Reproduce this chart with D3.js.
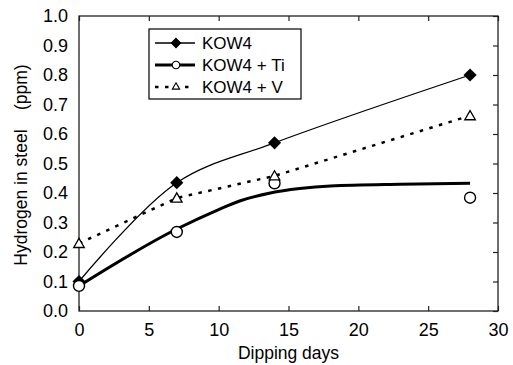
<!DOCTYPE html>
<meta charset="utf-8">
<style>
body { margin: 0; background: #fff; }
svg text { font-family: "Liberation Sans", Arial, sans-serif; fill: #000; }
.tick text { font-size: 18px; }
.title { font-size: 17.5px; }
.legend text { font-size: 17px; }
</style>
<svg width="513" height="365"></svg>
<script src="https://d3js.org/d3.v7.min.js"></script>
<script>
// measured points
var days = [0, 7, 14, 28];
var kow4 = [0.10, 0.435, 0.57, 0.80];
var kow4Ti = [0.085, 0.268, 0.433, 0.384];
var kow4V = [0.229, 0.383, 0.458, 0.662];

// smooth fit line drawn for KOW4 + Ti
var fitDays = [0, 7, 10, 11.5, 13.7, 15.8, 18, 23, 28];
var fitTi = [0.085, 0.278, 0.344, 0.373, 0.400, 0.415, 0.424, 0.430, 0.433];

var xTicks = [0, 5, 10, 15, 20, 25, 30];
var yTicks = [0, 0.1, 0.2, 0.3, 0.4, 0.5, 0.6, 0.7, 0.8, 0.9, 1.0];
var legendLabels = ["KOW4", "KOW4 + Ti", "KOW4 + V"];

var svg = d3.select("svg"),
  margin = {top: 16, right: 15, bottom: 54, left: 79},
  width = svg.attr("width") - margin.left - margin.right,
  height = svg.attr("height") - margin.top - margin.bottom;

var x = d3.scaleLinear().domain([0, 30]).range([0, width]);
var y = d3.scaleLinear().domain([0, 1]).range([height, 0]);

var g = svg.append("g")
  .attr("transform", "translate(" + margin.left + "," + margin.top + ")");

// bottom axis, ticks pointing in
var xAxis = g.append("g")
  .attr("transform", "translate(0," + height + ")")
  .call(d3.axisBottom(x).tickValues(xTicks).tickSize(-5).tickPadding(12).tickFormat(d3.format("d")));
// left axis, labels only
var yAxis = g.append("g")
  .call(d3.axisLeft(y).tickValues(yTicks).tickSize(0).tickPadding(11).tickFormat(d3.format(".1f")));
// top and right, ticks only
var topAxis = g.append("g")
  .call(d3.axisTop(x).tickValues(xTicks).tickSize(-5).tickFormat(""));
var rightAxis = g.append("g")
  .attr("transform", "translate(" + width + ",0)")
  .call(d3.axisRight(y).tickValues(yTicks).tickSize(-5).tickFormat(""));

[xAxis, yAxis, topAxis, rightAxis].forEach(function(a) {
  a.select(".domain").remove();
  a.selectAll("line").attr("stroke", "#222").attr("stroke-width", 1.2);
  a.selectAll("text").attr("fill", "#000").style("font-family", "Liberation Sans, Arial, sans-serif");
});
xAxis.selectAll("text").attr("dy", "0.71em");

g.append("rect")
  .attr("width", width).attr("height", height)
  .attr("fill", "none").attr("stroke", "#222").attr("stroke-width", 1.3);

function pts(xs, ys) { return xs.map(function(d, i) { return [d, ys[i]]; }); }

var line = d3.line().x(function(d) { return x(d[0]); }).y(function(d) { return y(d[1]); });

// KOW4: smoothed line through points
g.append("path")
  .attr("d", line.curve(d3.curveCatmullRom.alpha(0.5))(pts(days, kow4)))
  .attr("fill", "none").attr("stroke", "#000").attr("stroke-width", 1.3);

// KOW4 + Ti: thick fitted curve
g.append("path")
  .attr("d", line.curve(d3.curveMonotoneX)(pts(fitDays, fitTi)))
  .attr("fill", "none").attr("stroke", "#000").attr("stroke-width", 3);

// KOW4 + V: dotted straight segments
g.append("path")
  .attr("d", line.curve(d3.curveLinear)(pts(days, kow4V)))
  .attr("fill", "none").attr("stroke", "#000").attr("stroke-width", 2.5)
  .attr("stroke-dasharray", "3.5,6.5");

var diamond = d3.symbol().type(d3.symbolDiamond2).size(110)();
var circle = d3.symbol().type(d3.symbolCircle).size(95)();
var triangle = d3.symbol().type(d3.symbolTriangle2).size(80)();

g.selectAll(".m1").data(pts(days, kow4)).enter().append("path")
  .attr("transform", function(d) { return "translate(" + x(d[0]) + "," + y(d[1]) + ")"; })
  .attr("d", diamond).attr("fill", "#000");

g.selectAll(".m2").data(pts(days, kow4Ti)).enter().append("path")
  .attr("transform", function(d) { return "translate(" + x(d[0]) + "," + y(d[1]) + ")"; })
  .attr("d", circle).attr("fill", "#fff").attr("stroke", "#000").attr("stroke-width", 1.4);

g.selectAll(".m3").data(pts(days, kow4V)).enter().append("path")
  .attr("transform", function(d) { return "translate(" + x(d[0]) + "," + (y(d[1]) + 1) + ")"; })
  .attr("d", triangle).attr("fill", "#fff").attr("stroke", "#000").attr("stroke-width", 1.3);

// axis titles
svg.append("text").attr("class", "title")
  .attr("x", margin.left + width / 2).attr("y", 359)
  .attr("text-anchor", "middle").text("Dipping days");

svg.append("text").attr("class", "title")
  .attr("transform", "translate(27,165) rotate(-90)")
  .attr("text-anchor", "middle")
  .attr("xml:space", "preserve").style("white-space", "pre")
  .text("Hydrogen in steel    (ppm)");

// legend
var lg = svg.append("g").attr("class", "legend").attr("transform", "translate(149,29)");
lg.append("rect").attr("width", 152).attr("height", 70)
  .attr("fill", "#fff").attr("stroke", "#000").attr("stroke-width", 1.2);

var styles = [
  {w: 1.3, dash: null, sym: d3.symbol().type(d3.symbolDiamond2).size(55)(), fill: "#000"},
  {w: 3, dash: null, sym: d3.symbol().type(d3.symbolCircle).size(45)(), fill: "#fff"},
  {w: 2.5, dash: "3.5,6.5", sym: d3.symbol().type(d3.symbolTriangle2).size(38)(), fill: "#fff"}
];

legendLabels.forEach(function(label, i) {
  var row = lg.append("g").attr("transform", "translate(0," + (14 + i * 22) + ")");
  row.append("line").attr("x1", 6).attr("x2", 46)
    .attr("stroke", "#000").attr("stroke-width", styles[i].w)
    .attr("stroke-dasharray", styles[i].dash);
  row.append("path").attr("transform", "translate(27,0)")
    .attr("d", styles[i].sym).attr("fill", styles[i].fill)
    .attr("stroke", "#000").attr("stroke-width", 1.1);
  row.append("text").attr("x", 53).attr("dy", "0.35em").text(label);
});
</script>
